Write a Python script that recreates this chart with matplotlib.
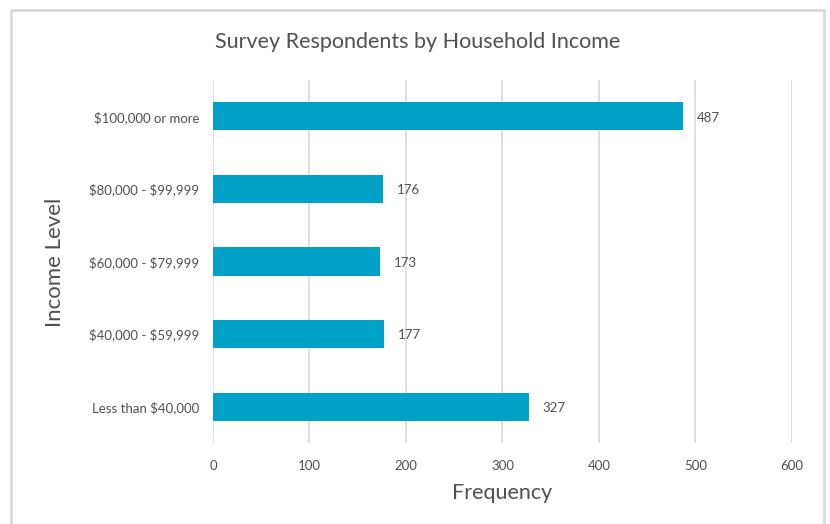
import matplotlib as mpl
mpl.use('Agg')
import matplotlib.pyplot as plt
from matplotlib.patches import Rectangle

categories = ['Less than \\$40,000', '\\$40,000 - \\$59,999', '\\$60,000 - \\$79,999',
              '\\$80,000 - \\$99,999', '\\$100,000 or more']
counts = [327, 177, 173, 176, 487]
xticks = [0, 100, 200, 300, 400, 500, 600]

bar_color = '#00A1C6'
text_color = '#505050'
grid_color = '#d9d9d9'

plt.rcParams['font.family'] = ['Lato', 'DejaVu Sans']

fig = plt.figure(figsize=(8.3, 5.24), dpi=100)
ax = fig.add_axes([0.2566, 0.1546, 0.6976, 0.6927])

# outer chart frame (bottom edge runs off the canvas)
fig.patches.append(Rectangle((11/830, -0.05), (824-11)/830, 1.05 - 10/524,
                             transform=fig.transFigure, fill=False,
                             edgecolor='#d9d9d9', linewidth=2))

ypos = list(range(len(categories)))
bars = ax.barh(ypos, counts, height=0.39, color=bar_color, zorder=3)

for y, v in zip(ypos, counts):
  ax.annotate(str(v), xy=(v, y), xytext=(10, -1), textcoords='offset points',
              ha='left', va='center', fontsize=9.5, color=text_color)

ax.set_xlim(0, 600)
ax.set_ylim(-0.5, len(categories) - 0.5)
ax.set_xticks(xticks)
ax.set_yticks(ypos)
ax.set_yticklabels(categories)
ax.tick_params(axis='both', length=0, labelsize=9.5, labelcolor=text_color)
ax.tick_params(axis='y', pad=10)
ax.tick_params(axis='x', pad=12)
ax.xaxis.grid(True, color=grid_color, linewidth=1.2, zorder=0)
for s in ax.spines.values():
  s.set_visible(False)

ax.set_xlabel('Frequency', fontsize=15.5, color=text_color, labelpad=8)
fig.text(0.066, 0.5, 'Income Level', rotation=90, fontsize=16,
         color=text_color, ha='center', va='center')
fig.text(0.503, 0.92, 'Survey Respondents by Household Income', fontsize=15.5,
         color=text_color, ha='center', va='center')

plt.savefig('out.png', dpi=100)
